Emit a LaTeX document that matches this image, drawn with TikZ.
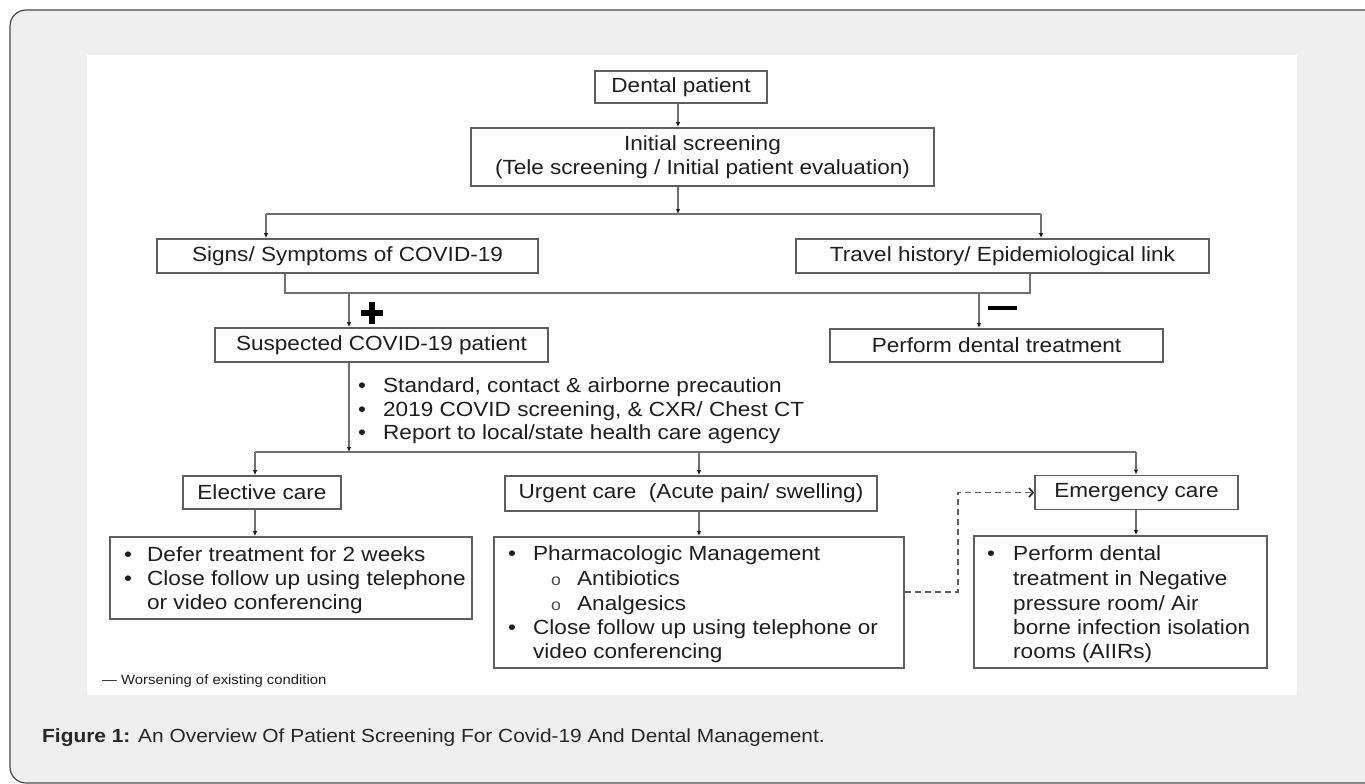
\documentclass[tikz,border=0pt]{standalone}
\usepackage{fontspec}
\newfontfamily\df{Liberation Sans}[FakeStretch=1.1]
\usetikzlibrary{arrows.meta,calc}
\definecolor{bgc}{HTML}{EFEFEF}
\definecolor{framec}{HTML}{4A4A4A}
\definecolor{boxc}{HTML}{5E5E5E}
\definecolor{linec}{HTML}{707070}
\definecolor{txt}{HTML}{1E1E1E}
\begin{document}
\begin{tikzpicture}[x=1pt,y=-1pt,
  box/.style={draw=boxc, line width=1.8pt, inner sep=0pt, text=txt,
    font=\df\fontsize{20.5}{24.5}\selectfont, align=center},
  lbl/.style={inner sep=0pt, anchor=base west, text=txt,
    font=\df\fontsize{20.5}{24.5}\selectfont},
  sub/.style={inner sep=0pt, anchor=base west, text=txt!80,
    font=\df\fontsize{16}{20}\selectfont},
  line/.style={draw=linec, line width=1.3pt},
  conn/.style={draw=linec, line width=1.3pt, -{Latex[length=5pt,width=4.5pt,color=txt]}},
  dashconn/.style={draw=boxc, line width=1.6pt, dash pattern=on 6pt off 4pt,
    -{Straight Barb[length=4pt,width=9pt,color=txt]}}]
\useasboundingbox (0,0) rectangle (1365,784);
\clip (0,0) rectangle (1365,784);
% background and panels
\fill[white] (0,0) rectangle (1365,784);
\draw[fill=bgc, draw=framec, line width=1.2pt, rounded corners=16pt] (10,10) rectangle (1380,783);
\fill[white] (87,55) rectangle (1297,695);

% boxes
\node[box, minimum width=172, minimum height=32] (dp) at (681,87) {Dental patient};
\node[box, minimum width=463, minimum height=58] (init) at (702.5,157)
  {Initial screening\\(Tele screening / Initial patient evaluation)};
\node[box, minimum width=381, minimum height=34] (signs) at (347.5,256) {Signs/ Symptoms of COVID-19};
\node[box, minimum width=413, minimum height=34] (travel) at (1002.5,256) {Travel history/ Epidemiological link};
\node[box, minimum width=333, minimum height=34] (susp) at (381.5,345) {Suspected COVID-19 patient};
\node[box, minimum width=333, minimum height=33] (perf) at (996.5,345.5) {Perform dental treatment};
\node[box, minimum width=158, minimum height=33] (elect) at (262,492.5) {Elective care};
\node[box, minimum width=372, minimum height=35] (urgent) at (691,493.5) {Urgent care\ \ (Acute pain/ swelling)};
\node[box, minimum width=203, minimum height=34] (emerg) at (1136.5,492.5) {Emergency care};
\node[box, minimum width=362, minimum height=82] (defer) at (291,578) {};
\node[box, minimum width=410, minimum height=131] (pharm) at (699,602.5) {};
\node[box, minimum width=293, minimum height=132] (aiir) at (1120.5,602) {};

% bullet block under suspected
\node[lbl] (b1) at (358,392) {•};
\node[lbl] (t1) at (383,392) {Standard, contact \& airborne precaution};
\node[lbl] (b2) at (358,416) {•};
\node[lbl] (t2) at (383,416) {2019 COVID screening, \& CXR/ Chest CT};
\node[lbl] (b3) at (358,439) {•};
\node[lbl] (t3) at (383,439) {Report to local/state health care agency};

% defer box text
\node[lbl] (d1b) at (124,561) {•};
\node[lbl] (d1) at (147,561) {Defer treatment for 2 weeks};
\node[lbl] (d2b) at (124,585) {•};
\node[lbl] (d2) at (147,585) {Close follow up using telephone};
\node[lbl] (d3) at (147,609) {or video conferencing};

% pharm box text
\node[lbl] (p1b) at (508,560) {•};
\node[lbl] (p1) at (533,560) {Pharmacologic Management};
\node[sub] (p2b) at (551,585) {o};
\node[lbl] (p2) at (577,585) {Antibiotics};
\node[sub] (p3b) at (551,610) {o};
\node[lbl] (p3) at (577,610) {Analgesics};
\node[lbl] (p4b) at (508,634) {•};
\node[lbl] (p4) at (533,634) {Close follow up using telephone or};
\node[lbl] (p5) at (533,658) {video conferencing};

% aiir box text
\node[lbl] (a1b) at (987,560) {•};
\node[lbl] (a1) at (1013,560) {Perform dental};
\node[lbl] (a2) at (1013,585) {treatment in Negative};
\node[lbl] (a3) at (1013,610) {pressure room/ Air};
\node[lbl] (a4) at (1013,634) {borne infection isolation};
\node[lbl] (a5) at (1013,658) {rooms (AIIRs)};

% connectors
\coordinate (j1) at (678,214);
\coordinate (bL) at (266,214);
\coordinate (bR) at (1041,214);
\draw[conn] (dp.south -| j1) -- (init.north -| j1);
\draw[conn] (init.south -| j1) -- (j1);
\draw[line] (bL) -- (bR);
\draw[conn] (bL) -- (signs.north -| bL);
\draw[conn] (bR) -- (travel.north -| bR);
\coordinate (cL) at (285,293);
\coordinate (cR) at (1030,293);
\draw[line] (signs.south -| cL) -- (cL) -- (cR) -- (travel.south -| cR);
\coordinate (pA) at (349,293);
\coordinate (mA) at (979,293);
\draw[conn] (pA) -- (susp.north -| pA);
\draw[conn] (mA) -- (perf.north -| mA);
\coordinate (dA) at (349,452);
\draw[conn] (susp.south -| dA) -- (dA);
\coordinate (eL) at (255,452);
\coordinate (eM) at (699,452);
\coordinate (eR) at (1136,452);
\draw[line] (eL) -- (eR);
\draw[conn] (eL) -- (elect.north -| eL);
\draw[conn] (eM) -- (urgent.north -| eM);
\draw[conn] (eR) -- (emerg.north -| eR);
\draw[conn] (elect.south -| eL) -- (defer.north -| eL);
\draw[conn] (urgent.south -| eM) -- (pharm.north -| eM);
\draw[conn] (emerg.south -| eR) -- (aiir.north -| eR);
\coordinate (dsh) at (958,592);
\draw[dashconn] (pharm.east |- dsh) -- (dsh) -- (dsh |- emerg.west) -- (emerg.west);

% plus and minus signs
\coordinate (plus) at (372,313);
\draw[black, line width=6pt] ($(plus)+(-11,0)$) -- ($(plus)+(11,0)$);
\draw[black, line width=6pt] ($(plus)+(0,-11)$) -- ($(plus)+(0,11)$);
\draw[black, line width=4.5pt] (988,308) -- (1017,308);

% legend and caption
\node[inner sep=0pt, anchor=base west, text=txt, font=\df\fontsize{13.5}{16}\selectfont] (leg) at (102,684)
  {— Worsening of existing condition};
\node[inner sep=0pt, anchor=base west, text=black!85, font=\df\fontsize{19}{22}\selectfont] (cap) at (42,742)
  {\textbf{Figure 1:} An Overview Of Patient Screening For Covid-19 And Dental Management.};
\end{tikzpicture}
\end{document}
